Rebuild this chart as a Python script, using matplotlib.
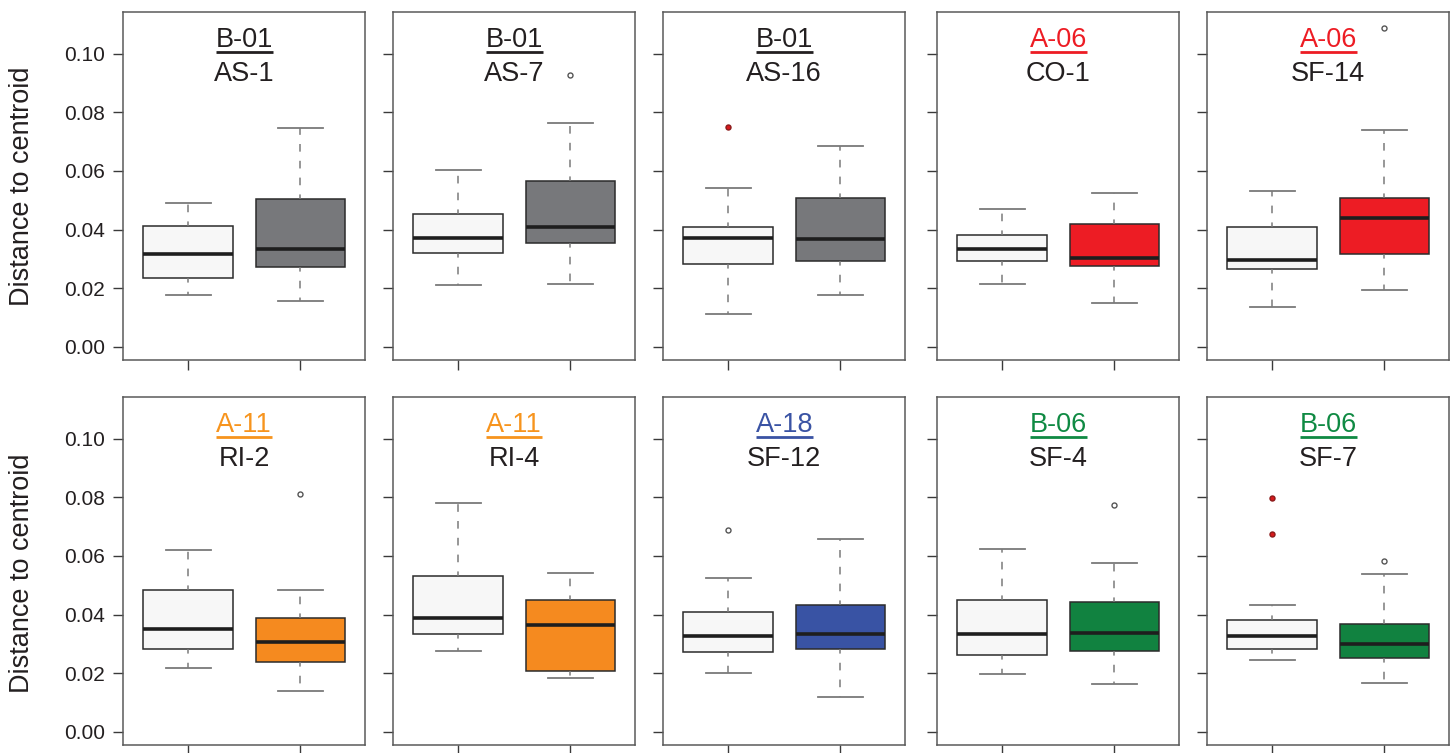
import matplotlib
matplotlib.use("Agg")
import matplotlib.pyplot as plt

plt.rcParams['font.family'] = ['Liberation Sans', 'DejaVu Sans']

# panel headers
codes = ["B-01", "B-01", "B-01", "A-06", "A-06", "A-11", "A-11", "A-18", "B-06", "B-06"]
sites = ["AS-1", "AS-7", "AS-16", "CO-1", "SF-14", "RI-2", "RI-4", "SF-12", "SF-4", "SF-7"]

# left (light) box of each panel
base_q1 = [0.0234, 0.0321, 0.0282, 0.0293, 0.0266, 0.0283, 0.0332, 0.0271, 0.0261, 0.0282]
base_med = [0.0316, 0.0372, 0.0371, 0.0332, 0.0296, 0.0349, 0.0389, 0.0328, 0.0333, 0.0328]
base_q3 = [0.0413, 0.0453, 0.0408, 0.0381, 0.0409, 0.0482, 0.0530, 0.0409, 0.0448, 0.0383]
base_lo = [0.0178, 0.0211, 0.0111, 0.0214, 0.0135, 0.0217, 0.0277, 0.0201, 0.0196, 0.0245]
base_hi = [0.0492, 0.0602, 0.0542, 0.0469, 0.0531, 0.0619, 0.0779, 0.0525, 0.0625, 0.0432]
base_out = [[], [], [0.0749], [], [], [], [], [0.0690], [], [0.0796, 0.0673]]
base_out_red = [False, False, True, False, False, False, False, False, False, True]

# right (coloured) box of each panel
grp_q1 = [0.0271, 0.0355, 0.0291, 0.0276, 0.0316, 0.0239, 0.0206, 0.0283, 0.0277, 0.0251]
grp_med = [0.0333, 0.0409, 0.0366, 0.0304, 0.0438, 0.0305, 0.0365, 0.0332, 0.0338, 0.0299]
grp_q3 = [0.0503, 0.0564, 0.0508, 0.0419, 0.0509, 0.0387, 0.0448, 0.0431, 0.0442, 0.0366]
grp_lo = [0.0155, 0.0215, 0.0177, 0.0149, 0.0194, 0.0138, 0.0184, 0.0117, 0.0162, 0.0168]
grp_hi = [0.0746, 0.0762, 0.0685, 0.0525, 0.0741, 0.0482, 0.0543, 0.0657, 0.0576, 0.0537]
grp_out = [[], [0.0927], [], [], [0.1086], [0.0812], [], [], [0.0773], [0.0581]]

yticks = [0.00, 0.02, 0.04, 0.06, 0.08, 0.10]

code_color = {"B-01": "#231f20", "A-06": "#ed1c24", "A-11": "#f7941d",
              "A-18": "#3a53a4", "B-06": "#0f8a43"}
box_color = {"B-01": "#77787b", "A-06": "#ed1c24", "A-11": "#f58a1f",
             "A-18": "#3953a4", "B-06": "#118240"}
light = "#f7f7f7"
ink = "#231f20"

W, H = 1455, 753
fig = plt.figure(figsize=(W / 100, H / 100), dpi=100)
lefts = [123.3, 393.3, 663.3, 937.3, 1207.3]
tops = [11.7, 396.7]
aw, ah = 242, 348

renderer = fig.canvas.get_renderer()

for i in range(10):
    r, c = divmod(i, 5)
    ax = fig.add_axes([lefts[c] / W, 1 - (tops[r] + ah) / H, aw / W, ah / H])
    stats = [
        dict(med=base_med[i], q1=base_q1[i], q3=base_q3[i],
             whislo=base_lo[i], whishi=base_hi[i], fliers=base_out[i]),
        dict(med=grp_med[i], q1=grp_q1[i], q3=grp_q3[i],
             whislo=grp_lo[i], whishi=grp_hi[i], fliers=grp_out[i]),
    ]
    bp = ax.bxp(stats, positions=[1, 2], widths=0.8, patch_artist=True,
                boxprops=dict(edgecolor="#2b2b2b", linewidth=1.1),
                whiskerprops=dict(color="#7a7a7a", linewidth=1.1, linestyle=(2, (5, 6))),
                capprops=dict(color="#7a7a7a", linewidth=1.3),
                medianprops=dict(color="#1e1e1e", linewidth=2.6, solid_capstyle="butt"),
                flierprops=dict(marker="o", markersize=3.6, markerfacecolor="white",
                                markeredgecolor="#555555", markeredgewidth=1.0,
                                linestyle="none"))
    bp["boxes"][0].set_facecolor(light)
    bp["boxes"][1].set_facecolor(box_color[codes[i]])
    if base_out_red[i]:
        bp["fliers"][0].set_markerfacecolor("#d7191c")
        bp["fliers"][0].set_markeredgecolor("#8b1a1a")

    ax.set_xlim(0.42, 2.58)
    ax.set_ylim(-0.0044, 0.1143)
    ax.set_xticks([1, 2])
    ax.set_xticklabels([])
    ax.set_yticks(yticks)
    if c == 0:
        ax.set_yticklabels(["%.2f" % v for v in yticks])
    else:
        ax.set_yticklabels([])
    ax.tick_params(axis="both", direction="out", length=7.2, width=1.0,
                   color="#3a3a3a", labelsize=15, labelcolor=ink, pad=6)
    for sp in ax.spines.values():
        sp.set_color("#5a5a5a")
        sp.set_linewidth(1.1)

    t = ax.text(0.5, 0.899, codes[i], transform=ax.transAxes, ha="center",
                va="baseline", fontsize=19.5, color=code_color[codes[i]])
    ax.text(0.5, 0.801, sites[i], transform=ax.transAxes, ha="center",
            va="baseline", fontsize=19.5, color=ink)
    # underline the code
    bb = t.get_window_extent(renderer)
    inv = ax.transAxes.inverted()
    x0 = inv.transform((bb.x0, bb.y0))[0]
    x1 = inv.transform((bb.x1, bb.y0))[0]
    ax.plot([x0, x1], [0.885, 0.885], transform=ax.transAxes, color=code_color[codes[i]],
            linewidth=2.0, solid_capstyle="butt", clip_on=False)

# y label, one per row
for yc_px in [186, 573]:
    fig.text(22 / W, 1 - yc_px / H, "Distance to centroid", rotation=90, ha="center",
             va="center", fontsize=19.5, color=ink)

fig.savefig("out.png", dpi=100)
